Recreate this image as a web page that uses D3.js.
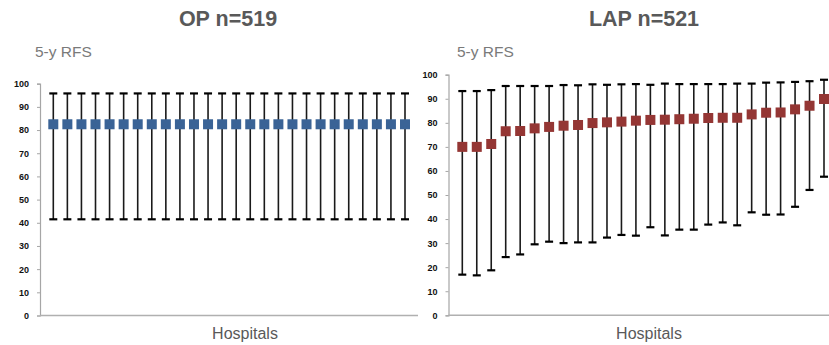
<!DOCTYPE html>
<html>
<head>
<meta charset="utf-8">
<script src="https://cdn.jsdelivr.net/npm/d3@7"></script>
<style>
  html, body { margin: 0; padding: 0; background: #fff; }
  svg { display: block; }
</style>
</head>
<body>
<svg id="chart" width="829" height="345"></svg>
<script>
// Hospital-level 5-year RFS estimates with confidence limits
const hospitals = d3.range(1, 27);
const yTicks = [0, 10, 20, 30, 40, 50, 60, 70, 80, 90, 100];

// Open surgery: a single pooled estimate per hospital
const opMean  = hospitals.map(() => 82.5);
const opUpper = hospitals.map(() => 95.8);
const opLower = hospitals.map(() => 41.5);

// Laparoscopic surgery: per-hospital estimates, sorted ascending
const lapMean  = [70.0, 70.0, 71.2, 76.5, 76.6, 77.7, 78.3, 78.8, 79.1, 79.9, 80.2, 80.5, 80.9,
                  81.2, 81.3, 81.5, 81.7, 82.0, 82.1, 82.1, 83.5, 84.2, 84.3, 85.6, 87.1, 89.9];
const lapUpper = [93.2, 93.2, 93.6, 95.3, 95.3, 95.3, 95.3, 95.7, 95.6, 96.0, 95.8, 96.0, 96.1,
                  95.8, 96.3, 96.1, 96.1, 96.1, 96.1, 96.3, 96.3, 96.7, 96.8, 97.0, 97.3, 97.9];
const lapLower = [16.9, 16.6, 18.7, 24.2, 25.3, 29.5, 30.6, 30.0, 30.3, 30.3, 32.3, 33.4, 33.1,
                  36.6, 33.2, 35.6, 35.6, 37.7, 38.6, 37.4, 42.8, 41.8, 41.9, 45.1, 52.1, 57.6];

const svg = d3.select("#chart");
const textGrey = "#595959";

function panel(cfg) {
  const g = svg.append("g");
  const x = d3.scalePoint().domain(hospitals).range(cfg.xr);
  const y = d3.scaleLinear().domain([0, 100]).range(cfg.yr);

  // title
  g.append("text")
    .attr("x", cfg.titleX).attr("y", 26)
    .attr("text-anchor", "middle")
    .attr("font-family", "Liberation Sans, Arial, sans-serif")
    .attr("font-weight", "bold").attr("font-size", 21.5)
    .attr("fill", textGrey)
    .text(cfg.title);

  // y-axis caption
  g.append("text")
    .attr("x", cfg.labelX).attr("y", 57)
    .attr("font-family", "Liberation Sans, Arial, sans-serif")
    .attr("font-size", 15.5).attr("fill", "#7a7a7a")
    .text("5-y RFS");

  // y axis
  const yAxis = d3.axisLeft(y).tickValues(yTicks).tickSize(3).tickPadding(8);
  const ya = g.append("g").attr("transform", `translate(${cfg.axisX},0)`).call(yAxis);
  ya.select(".domain").attr("stroke", "#a6a6a6").attr("stroke-width", 1.2);
  ya.selectAll(".tick line").attr("stroke", "#a6a6a6");
  ya.selectAll(".tick text")
    .attr("font-family", "Liberation Sans, Arial, sans-serif")
    .attr("font-weight", "bold").attr("font-size", 9)
    .attr("fill", "#111");

  // x baseline
  g.append("line")
    .attr("x1", cfg.axisX).attr("x2", cfg.axisEnd)
    .attr("y1", y(0)).attr("y2", y(0))
    .attr("stroke", "#b0b0b0").attr("stroke-width", 1.6);

  // x caption
  g.append("text")
    .attr("x", cfg.capX).attr("y", 339)
    .attr("text-anchor", "middle")
    .attr("font-family", "Liberation Sans, Arial, sans-serif")
    .attr("font-size", 16).attr("fill", textGrey)
    .text("Hospitals");

  const rows = hospitals.map((h, i) => ({ h, m: cfg.mean[i], lo: cfg.lower[i], hi: cfg.upper[i] }));

  // error bars
  const eb = g.append("g").selectAll("g").data(rows).join("g");
  eb.append("line")
    .attr("x1", d => x(d.h)).attr("x2", d => x(d.h))
    .attr("y1", d => y(d.hi)).attr("y2", d => y(d.lo))
    .attr("stroke", "#1a1a1a").attr("stroke-width", 1.6);
  eb.append("line")
    .attr("x1", d => x(d.h) - 4).attr("x2", d => x(d.h) + 4)
    .attr("y1", d => y(d.hi)).attr("y2", d => y(d.hi))
    .attr("stroke", "#000").attr("stroke-width", 2.2);
  eb.append("line")
    .attr("x1", d => x(d.h) - 4).attr("x2", d => x(d.h) + 4)
    .attr("y1", d => y(d.lo)).attr("y2", d => y(d.lo))
    .attr("stroke", "#000").attr("stroke-width", 2.2);

  // point estimates
  const s = 10;
  g.append("g").selectAll("rect").data(rows).join("rect")
    .attr("x", d => x(d.h) - s / 2).attr("y", d => y(d.m) - s / 2)
    .attr("width", s).attr("height", s)
    .attr("fill", cfg.color);
}

panel({
  title: "OP n=519", titleX: 228, capX: 245, labelX: 35,
  axisX: 40, axisEnd: 418,
  xr: [53.3, 405], yr: [315.5, 83.7],
  mean: opMean, upper: opUpper, lower: opLower,
  color: "#3a6396"
});

panel({
  title: "LAP n=521", titleX: 644, capX: 649, labelX: 457,
  axisX: 448.5, axisEnd: 829,
  xr: [462.3, 824], yr: [315.3, 74.7],
  mean: lapMean, upper: lapUpper, lower: lapLower,
  color: "#943634"
});
</script>
</body>
</html>
